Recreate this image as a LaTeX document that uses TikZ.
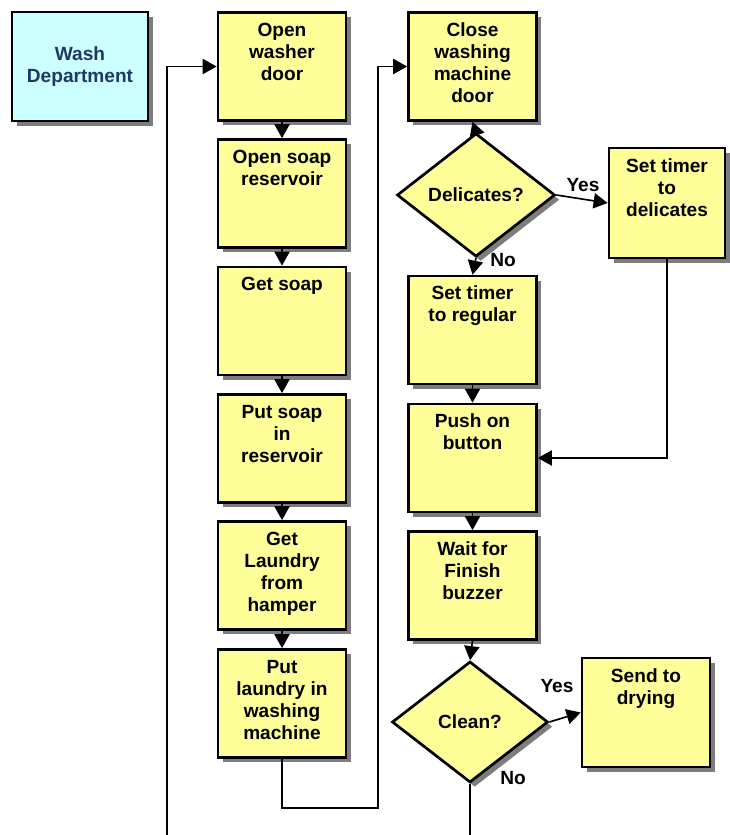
\documentclass[tikz,border=0pt]{standalone}
\usepackage{fontspec}
\setmainfont{Liberation Sans}
\usetikzlibrary{arrows.meta,shapes.geometric,shadows}
\definecolor{stepyellow}{RGB}{255,255,153}
\definecolor{deptcyan}{RGB}{204,255,255}
\definecolor{deptblue}{RGB}{31,56,100}
\newcommand{\toptext}[1]{\parbox[c][2.73cm][t]{3.3cm}{\centering\strut#1}}

\begin{document}
\begin{tikzpicture}[x=0.03cm, y=-0.03cm,
  font=\fontsize{16.3}{18.8}\selectfont\bfseries,
  dropshade/.style={drop shadow={shadow xshift=0.14cm, shadow yshift=-0.14cm, fill=black!60, opacity=.85}},
  stepbox/.style={draw, line width=2.3pt, fill=stepyellow, dropshade, inner sep=0pt, minimum width=3.84cm, minimum height=3.24cm},
  askbox/.style={diamond, draw, line width=2.3pt, fill=stepyellow, dropshade, inner sep=0pt, minimum width=4.74cm, minimum height=3.7cm},
  link/.style={line width=1.4pt, -{Triangle[length=12pt, width=13pt]}},
  wire/.style={line width=1.4pt}]
\useasboundingbox (0,0) rectangle (730,835);
% first column
\node[stepbox, fill=deptcyan, text=deptblue, align=center, minimum width=4.08cm, minimum height=3.27cm] (dept) at (80,66.5) {Wash\\Department};
\node[stepbox] (odoor) at (282,66.5) {\toptext{Open\\washer\\door}};
\node[stepbox] (osoap) at (282,193.5) {\toptext{Open soap\\reservoir}};
\node[stepbox] (gsoap) at (282,321) {\toptext{Get soap}};
\node[stepbox] (psoap) at (282,448.5) {\toptext{Put soap\\in\\reservoir}};
\node[stepbox] (glaundry) at (282,575.5) {\toptext{Get\\Laundry\\from\\hamper}};
\node[stepbox] (plaundry) at (282,703.5) {\toptext{Put\\laundry in\\washing\\machine}};
% second column
\node[stepbox] (close) at (472.5,66.5) {\toptext{Close\\washing\\machine\\door}};
\node[askbox] (dlc) at (476,195) {Delicates?};
\node[stepbox, minimum width=3.48cm, minimum height=3.3cm] (tdel) at (667,203) {\toptext{Set timer\\to\\delicates}};
\node[stepbox] (treg) at (472.5,330) {\toptext{Set timer\\to regular}};
\node[stepbox] (push) at (472.5,458) {\toptext{Push on\\button}};
\node[stepbox] (wait) at (472.5,585.5) {\toptext{Wait for\\Finish\\buzzer}};
\node[askbox, minimum width=4.68cm, minimum height=3.63cm] (clean) at (470,722) {Clean?};
\node[stepbox, minimum height=3.27cm] (dry) at (646,712.5) {\toptext{Send to\\drying}};
% answers
\node (dyes) at (583,185) {Yes};
\node (dno) at (503,260) {No};
\node (cyes) at (557,686) {Yes};
\node (cno) at (513,778) {No};
% loose ends
\coordinate (loopin) at (167,835);
\coordinate (jog) at (378,808);
\coordinate (cleanout) at (470,835);
% connectors
\draw[link] (odoor) -- (osoap);
\draw[link] (osoap) -- (gsoap);
\draw[link] (gsoap) -- (psoap);
\draw[link] (psoap) -- (glaundry);
\draw[link] (glaundry) -- (plaundry);
\draw[link] (loopin) |- (odoor.west);
\draw[link] (plaundry.south) |- (jog) |- (close.west);
\draw[link] (dlc.north) -- (close.south);
\draw[link] (dlc.east) -- (tdel.west);
\draw[link] (dlc.south) -- (treg.north);
\draw[link] (tdel.south) |- (push.east);
\draw[link] (treg) -- (push);
\draw[link] (push) -- (wait);
\draw[link] (wait.south) -- (clean.north);
\draw[link] (clean.east) -- (dry.west);
\draw[wire] (clean.south) -- (cleanout);
\end{tikzpicture}
\end{document}
